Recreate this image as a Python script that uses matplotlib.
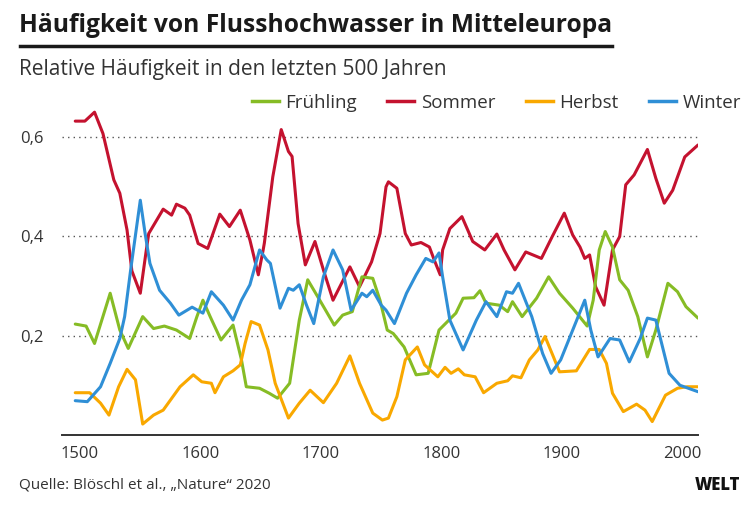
import matplotlib
matplotlib.use("Agg")
import matplotlib.pyplot as plt
from matplotlib.lines import Line2D

plt.rcParams['font.family'] = ['Open Sans', 'DejaVu Sans']

# ---- data ----
spring_years = [1496, 1505, 1512, 1525, 1533, 1540, 1552, 1561, 1570, 1580, 1591, 1597, 1602, 1608,
                1617, 1627, 1634, 1638, 1649, 1657, 1664, 1674, 1682, 1689, 1699, 1711, 1718, 1726,
                1734, 1743, 1749, 1755, 1760, 1769, 1779, 1789, 1798, 1812, 1818, 1827, 1832, 1837,
                1848, 1855, 1859, 1867, 1879, 1889, 1898, 1909, 1921, 1926, 1931, 1936, 1942, 1948,
                1955, 1963, 1971, 1978, 1988, 1996, 2003, 2013]
spring_vals = [0.223, 0.219, 0.184, 0.285, 0.211, 0.174, 0.238, 0.214, 0.219, 0.211, 0.194, 0.238, 0.271, 0.238,
               0.191, 0.221, 0.151, 0.097, 0.094, 0.084, 0.074, 0.104, 0.231, 0.312, 0.271, 0.221, 0.241, 0.248,
               0.318, 0.315, 0.271, 0.211, 0.204, 0.177, 0.121, 0.124, 0.211, 0.245, 0.275, 0.276, 0.290, 0.265,
               0.261, 0.248, 0.268, 0.238, 0.275, 0.318, 0.285, 0.255, 0.219, 0.271, 0.372, 0.409, 0.378, 0.312,
               0.291, 0.238, 0.157, 0.211, 0.305, 0.288, 0.258, 0.235]

summer_years = [1496, 1504, 1512, 1519, 1528, 1533, 1539, 1543, 1550, 1555, 1557, 1569, 1576, 1580,
                1587, 1591, 1598, 1606, 1616, 1624, 1633, 1641, 1648, 1652, 1653, 1660, 1667, 1673,
                1676, 1681, 1687, 1695, 1702, 1710, 1724, 1732, 1742, 1749, 1754, 1756, 1763, 1770,
                1775, 1783, 1790, 1794, 1799, 1801, 1807, 1817, 1826, 1836, 1846, 1852, 1861, 1870,
                1883, 1892, 1902, 1909, 1915, 1919, 1923, 1928, 1935, 1942, 1948, 1953, 1960, 1971,
                1978, 1985, 1992, 2002, 2013]
summer_vals = [0.631, 0.631, 0.649, 0.606, 0.513, 0.486, 0.412, 0.330, 0.285, 0.372, 0.405, 0.454, 0.442, 0.464,
               0.456, 0.442, 0.385, 0.375, 0.444, 0.419, 0.452, 0.392, 0.322, 0.372, 0.386, 0.519, 0.614, 0.570,
               0.560, 0.425, 0.342, 0.389, 0.332, 0.271, 0.338, 0.298, 0.348, 0.405, 0.499, 0.509, 0.496, 0.405,
               0.382, 0.387, 0.378, 0.352, 0.322, 0.372, 0.415, 0.439, 0.389, 0.372, 0.404, 0.372, 0.332, 0.368,
               0.355, 0.399, 0.446, 0.402, 0.378, 0.355, 0.362, 0.298, 0.261, 0.372, 0.399, 0.503, 0.523, 0.574,
               0.516, 0.466, 0.492, 0.559, 0.583]

autumn_years = [1496, 1508, 1517, 1524, 1532, 1539, 1546, 1552, 1561, 1569, 1583, 1594, 1601, 1609,
                1612, 1619, 1627, 1633, 1637, 1642, 1649, 1656, 1662, 1673, 1682, 1691, 1702, 1713,
                1724, 1732, 1743, 1751, 1756, 1763, 1770, 1780, 1786, 1797, 1803, 1808, 1814, 1819,
                1828, 1835, 1846, 1855, 1859, 1866, 1873, 1880, 1886, 1893, 1898, 1912, 1923, 1931,
                1937, 1942, 1951, 1962, 1969, 1975, 1986, 1996, 2004, 2013]
autumn_vals = [0.085, 0.085, 0.064, 0.040, 0.097, 0.132, 0.111, 0.022, 0.040, 0.050, 0.097, 0.121, 0.107, 0.104,
               0.085, 0.117, 0.129, 0.141, 0.184, 0.228, 0.221, 0.171, 0.104, 0.034, 0.064, 0.090, 0.065, 0.104,
               0.159, 0.104, 0.044, 0.030, 0.034, 0.077, 0.151, 0.177, 0.141, 0.117, 0.136, 0.124, 0.133, 0.121,
               0.117, 0.085, 0.104, 0.109, 0.119, 0.115, 0.151, 0.171, 0.198, 0.157, 0.127, 0.129, 0.172, 0.172,
               0.144, 0.084, 0.047, 0.062, 0.050, 0.027, 0.080, 0.094, 0.097, 0.097]

winter_years = [1496, 1506, 1517, 1525, 1533, 1537, 1542, 1550, 1554, 1558, 1566, 1575, 1582, 1593,
                1602, 1609, 1619, 1627, 1634, 1641, 1649, 1655, 1658, 1666, 1673, 1677, 1682, 1688,
                1694, 1702, 1710, 1718, 1725, 1734, 1738, 1743, 1750, 1754, 1761, 1771, 1779, 1787,
                1793, 1798, 1801, 1807, 1818, 1829, 1837, 1846, 1854, 1859, 1864, 1875, 1884, 1891,
                1899, 1909, 1919, 1924, 1930, 1940, 1948, 1956, 1965, 1971, 1978, 1989, 1998, 2013]
winter_vals = [0.069, 0.067, 0.097, 0.144, 0.194, 0.238, 0.332, 0.472, 0.405, 0.345, 0.291, 0.265, 0.241, 0.257,
               0.245, 0.288, 0.261, 0.231, 0.271, 0.302, 0.372, 0.352, 0.345, 0.255, 0.295, 0.291, 0.302, 0.261,
               0.224, 0.318, 0.372, 0.332, 0.251, 0.285, 0.278, 0.291, 0.261, 0.251, 0.224, 0.285, 0.322, 0.355,
               0.348, 0.366, 0.318, 0.231, 0.171, 0.231, 0.268, 0.238, 0.288, 0.285, 0.305, 0.238, 0.164, 0.124,
               0.151, 0.211, 0.271, 0.211, 0.157, 0.194, 0.191, 0.147, 0.194, 0.235, 0.231, 0.124, 0.100, 0.087]

series_names = ["Frühling", "Sommer", "Herbst", "Winter"]
series_colors = ["#86BC25", "#C4122F", "#F9A800", "#2F8FD6"]

x_ticks = [1500, 1600, 1700, 1800, 1900, 2000]
y_ticks = [0.2, 0.4, 0.6]
y_ticklabels = ["0,2", "0,4", "0,6"]

# ---- figure ----
W, H = 748, 512
fig = plt.figure(figsize=(W / 100, H / 100), dpi=100)
ax = fig.add_axes([62 / W, 1 - 435 / H, (698 - 62) / W, (435 - 106.7) / H])

data = [(spring_years, spring_vals), (summer_years, summer_vals),
        (autumn_years, autumn_vals), (winter_years, winter_vals)]
for i in [1, 0, 2, 3]:
    xs, ys = data[i]
    ax.plot(xs, ys, color=series_colors[i], lw=2.2, solid_joinstyle='round',
            solid_capstyle='round', zorder=3)

ax.set_xlim(1485, 2013)
ax.set_ylim(0, 0.66)
for s in ['top', 'right', 'left']:
    ax.spines[s].set_visible(False)
ax.spines['bottom'].set_color('#333333')
ax.spines['bottom'].set_linewidth(1.4)
ax.set_yticks(y_ticks)
ax.set_yticklabels(y_ticklabels)
ax.set_xticks(x_ticks)
ax.set_xticklabels([str(t) for t in x_ticks])
ax.tick_params(axis='both', length=0, labelsize=12, labelcolor='#333333')
ax.tick_params(axis='x', pad=8)
ax.tick_params(axis='y', pad=0)
for lbl in ax.get_yticklabels():
    lbl.set_horizontalalignment('left')
    lbl.set_x(-42 / (698 - 62))
ax.grid(axis='y', linestyle=(0, (1, 3)), color='#555555', linewidth=1.0)
ax.grid(axis='x', visible=False)
ax.set_axisbelow(True)

# legend
handles = [Line2D([], [], color=series_colors[i], lw=2.5) for i in range(4)]
leg = fig.legend(handles, series_names, ncol=4, loc='center right',
                 bbox_to_anchor=(741 / W, 1 - 103 / H), frameon=False,
                 fontsize=13.5, handlelength=1.44, handletextpad=0.35,
                 columnspacing=1.62, borderaxespad=0, borderpad=0)
for t in leg.get_texts():
    t.set_color('#333333')

# titles
fig.text(19 / W, 1 - 25 / H, "Häufigkeit von Flusshochwasser in Mitteleuropa",
         fontsize=17.7, fontweight='bold', color='#1a1a1a', va='center', ha='left')
fig.add_artist(Line2D([20 / W, 612 / W], [1 - 46 / H, 1 - 46 / H], color='#1a1a1a', lw=2.5))
fig.text(19 / W, 1 - 70 / H, "Relative Häufigkeit in den letzten 500 Jahren",
         fontsize=15, color='#333333', va='center', ha='left')

# footer
fig.text(19 / W, 1 - 485 / H, "Quelle: Blöschl et al., „Nature“ 2020",
         fontsize=11, color='#333333', va='center', ha='left')
fig.text(740 / W, 1 - 485 / H, "WELT", fontsize=12, fontweight='heavy',
         color='#111111', va='center', ha='right')

fig.savefig("out.png", dpi=100, facecolor='white')
